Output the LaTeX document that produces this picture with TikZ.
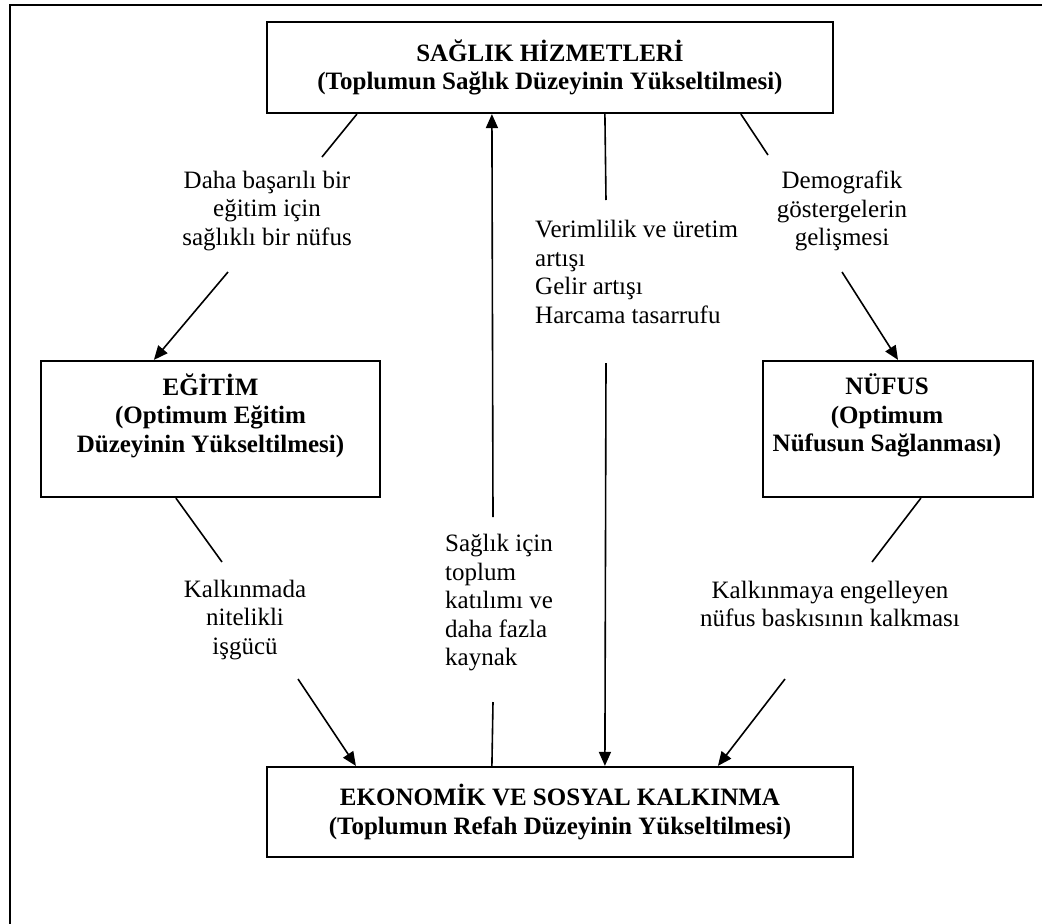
\documentclass[tikz,border=0pt]{standalone}
\usepackage{fontspec}
\setmainfont{Liberation Serif}
\usepackage{tikz}
\usetikzlibrary{positioning, arrows.meta, calc}

\begin{document}
\begin{tikzpicture}[
  x=1pt, y=-1pt,
  mainbox/.style={draw, line width=2.2pt, align=center, inner sep=0pt,
              font=\fontsize{25}{28.5}\selectfont\bfseries},
  notetext/.style={align=center, inner sep=0pt,
              font=\fontsize{25}{28.5}\selectfont},
  link/.style={line width=1.6pt},
  >={Triangle[length=14pt, width=12pt]}
]
  \useasboundingbox (0,0) rectangle (1042,924);
  % outer frame
  \draw[line width=2.5pt] (10,924) -- (10,5) -- (1042,5);

  % Boxes
  \node[mainbox, minimum width=566pt, minimum height=91pt] (saglik) at (550,67.5)
    {SAĞLIK HİZMETLERİ\\(Toplumun Sağlık Düzeyinin Yükseltilmesi)};
  \node[mainbox, minimum width=339pt, minimum height=136pt] (egitim) at (210.5,429)
    {EĞİTİM\\(Optimum Eğitim\\Düzeyinin Yükseltilmesi)\\[4pt]};
  \node[mainbox, minimum width=270pt, minimum height=136pt] (nufus) at (898,429)
    {NÜFUS\rule{22pt}{0pt}\\(Optimum\rule{22pt}{0pt}\\Nüfusun Sağlanması)\rule{22pt}{0pt}\\[4pt]};
  \node[mainbox, minimum width=586pt, minimum height=90pt] (kalkinma) at (560,812)
    {EKONOMİK VE SOSYAL KALKINMA\\(Toplumun Refah Düzeyinin Yükseltilmesi)};

  % Labels
  \node[notetext] (lblegitim) at (267,211)
    {Daha başarılı bir\\eğitim için\\sağlıklı bir nüfus};
  \node[notetext] (lbldemog) at (842,211)
    {Demografik\\göstergelerin\\gelişmesi};
  \node[notetext, align=left, anchor=west] (lblverim) at (535,272)
    {Verimlilik ve üretim\\artışı\\Gelir artışı\\Harcama tasarrufu};
  \node[notetext, align=left, anchor=west] (lbltoplum) at (445,603)
    {Sağlık için\\toplum\\katılımı ve\\daha fazla\\kaynak};
  \node[notetext] (lblisgucu) at (245,620)
    {Kalkınmada\\nitelikli\\işgücü};
  \node[notetext] (lblbaski) at (830,604)
    {Kalkınmaya engelleyen\\nüfus baskısının kalkması};

  % Connector ends
  \coordinate (a1) at ($(saglik.south west)+(91,0)$);
  \coordinate (a2) at (322,157);
  \coordinate (a3) at (228,272);
  \coordinate (a4) at ($(egitim.north west)+(114,0)$);
  \coordinate (b1) at ($(saglik.south west)+(475,0)$);
  \coordinate (b2) at (768,155);
  \coordinate (b3) at (842,272);
  \coordinate (b4) at (nufus.north);
  \coordinate (c1) at ($(saglik.south west)+(339,0)$);
  \coordinate (c2) at (606,200);
  \coordinate (c3) at (606,363);
  \coordinate (c4) at ($(kalkinma.north west)+(339,0)$);
  \coordinate (d1) at ($(kalkinma.north west)+(226,0)$);
  \coordinate (d2) at (493,702);
  \coordinate (d3) at (493,517);
  \coordinate (d4) at ($(saglik.south west)+(226,0)$);
  \coordinate (e1) at ($(egitim.south west)+(136,0)$);
  \coordinate (e2) at (222,562);
  \coordinate (e3) at (298,679);
  \coordinate (e4) at ($(kalkinma.north west)+(90,0)$);
  \coordinate (f1) at ($(nufus.south west)+(159,0)$);
  \coordinate (f2) at (872,562);
  \coordinate (f3) at (785,679);
  \coordinate (f4) at ($(kalkinma.north west)+(452,0)$);

  % Connectors
  \draw[link] (a1) -- (a2);
  \draw[link, ->] (a3) -- (a4);
  \draw[link] (b1) -- (b2);
  \draw[link, ->] (b3) -- (b4);
  \draw[link] (c1) -- (c2);
  \draw[link, ->] (c3) -- (c4);
  \draw[link] (d1) -- (d2);
  \draw[link, ->] (d3) -- (d4);
  \draw[link] (e1) -- (e2);
  \draw[link, ->] (e3) -- (e4);
  \draw[link] (f1) -- (f2);
  \draw[link, ->] (f3) -- (f4);
\end{tikzpicture}
\end{document}
